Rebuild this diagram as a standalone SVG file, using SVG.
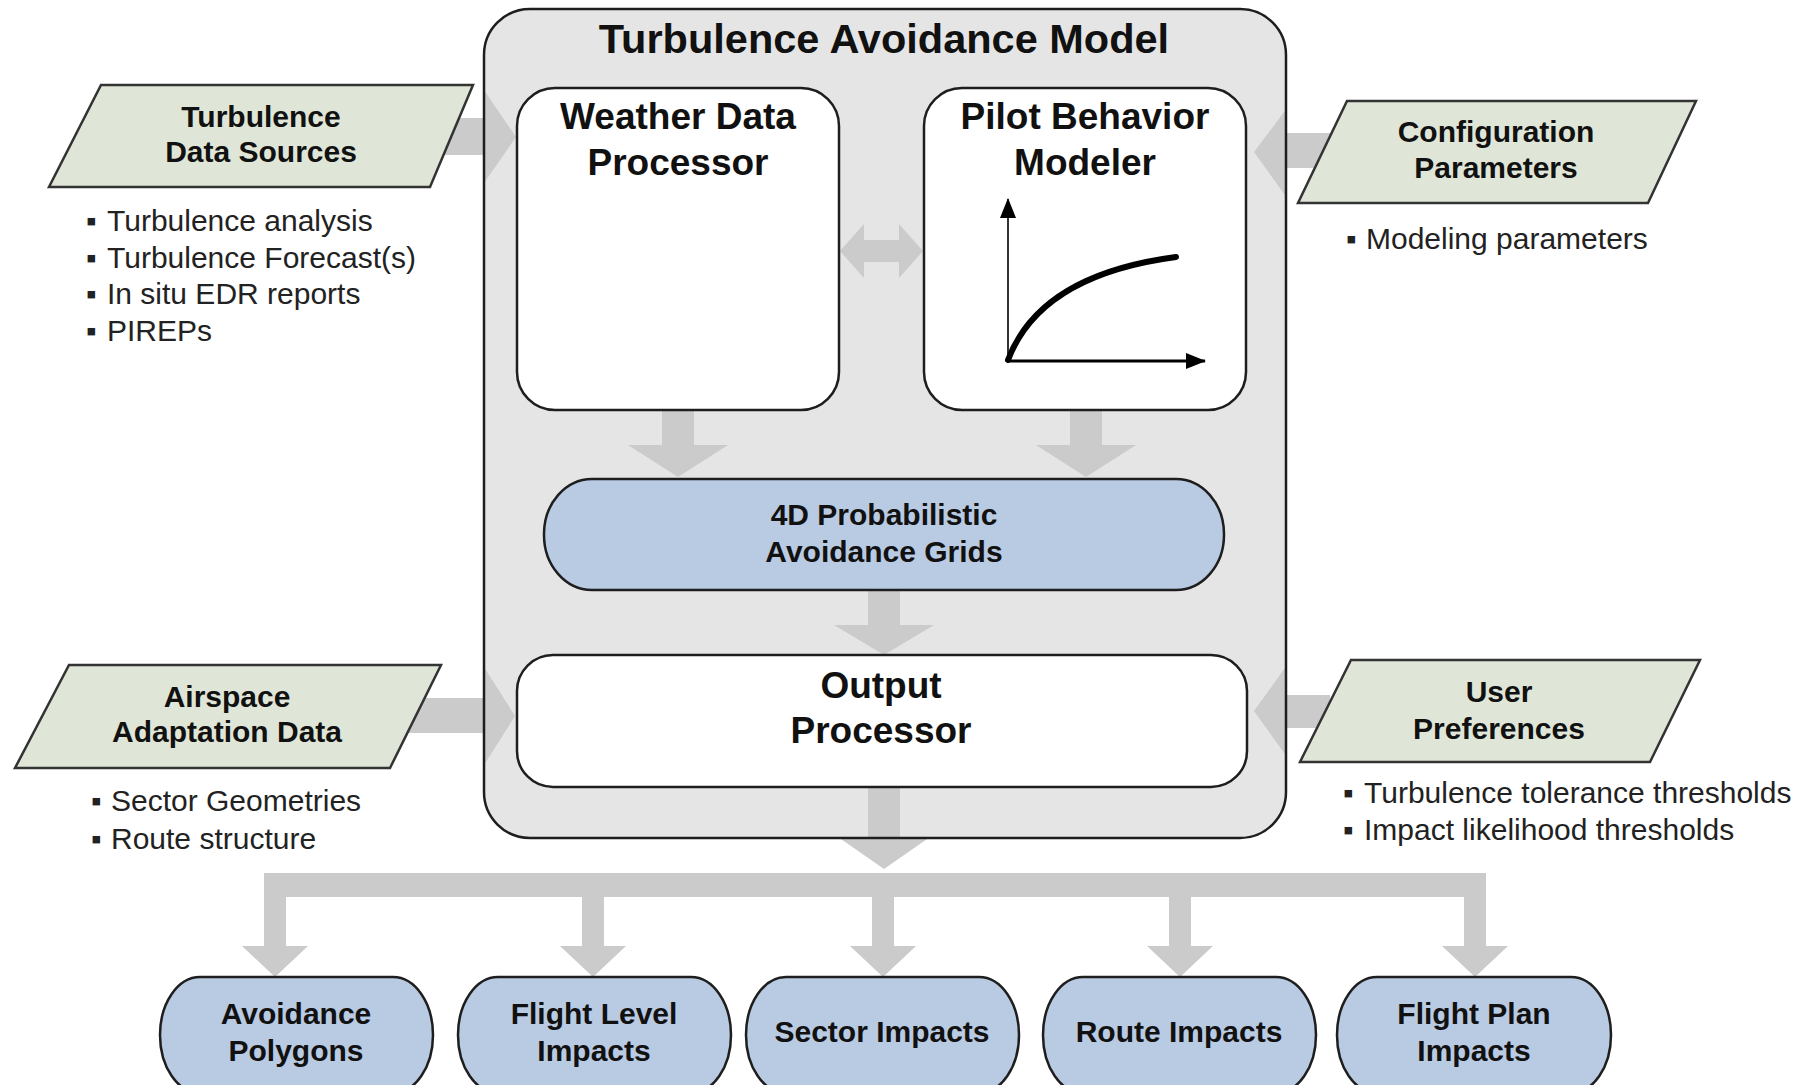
<svg xmlns="http://www.w3.org/2000/svg" width="1797" height="1085" viewBox="0 0 1797 1085">
<style>
  .bg{fill:#ffffff}
  .container{fill:#e5e5e5;stroke:none}
  .outline{fill:none;stroke:#1e1e1e;stroke-width:2.5}
  .box{fill:#ffffff;stroke:#1e1e1e;stroke-width:2.5}
  .pill{fill:#b9cae3;stroke:#1e1e1e;stroke-width:2.5}
  .para{fill:#dfe6d7;stroke:#333333;stroke-width:2.5}
  .arrow{fill:#cbcbcb;stroke:none}
  .t{font-family:"Liberation Sans",Arial,sans-serif;fill:#111111;text-anchor:middle;font-weight:bold}
  .title{font-size:41.5px}
  .big{font-size:37px}
  .lab{font-size:30px}
  .bul{font-family:"Liberation Sans",Arial,sans-serif;font-size:30px;fill:#222222}
  .axis{stroke:#333333;stroke-width:2;fill:none}
  .axis2{stroke:#000000;stroke-width:3;fill:none}
  .curve{stroke:#000000;stroke-width:6;fill:none;stroke-linecap:round}
</style>
<defs>
  <marker id="ah" viewBox="0 0 20 16" refX="19" refY="8" markerWidth="20" markerHeight="16" orient="auto" markerUnits="userSpaceOnUse">
    <path d="M0,0 L20,8 L0,16 z" fill="#000"/>
  </marker>
</defs>
<rect class="bg" x="0" y="0" width="1797" height="1085"/>

<g id="turbulence-avoidance-model">
  <rect class="container" x="484" y="9" width="802" height="829" rx="46" ry="46"/>
  <text class="t title" x="884" y="53">Turbulence Avoidance Model</text>
</g>

<g id="connectors">
  <polygon class="arrow" points="430,118 484,118 484,90 516,137 484,183 484,155 430,155"/>
  <polygon class="arrow" points="1330,133 1287,133 1287,108 1254,152 1287,198 1287,168 1330,168"/>
  <polygon class="arrow" points="380,698 484,698 484,667 515,716 484,765 484,733 380,733"/>
  <polygon class="arrow" points="1330,695 1287,695 1287,665 1254,711 1287,757 1287,728 1330,728"/>
  <polygon class="arrow" points="840,251 864,224 864,240 899,240 899,224 923,251 899,278 899,262 864,262 864,278"/>
  <polygon class="arrow" points="662,410 694,410 694,445 728,445 678,477 628,445 662,445"/>
  <polygon class="arrow" points="1070,410 1102,410 1102,445 1136,445 1086,477 1036,445 1070,445"/>
  <polygon class="arrow" points="868,590 900,590 900,625 934,625 884,655 834,625 868,625"/>
  <polygon class="arrow" points="868,787 900,787 900,837 930,837 884,869 838,837 868,837"/>
  <rect class="arrow" x="264" y="873" width="1222" height="24"/>
  <polygon class="arrow" points="264,897 286,897 286,946 308,946 275,977 242,946 264,946"/>
  <polygon class="arrow" points="582,897 604,897 604,946 626,946 593,977 560,946 582,946"/>
  <polygon class="arrow" points="872,897 894,897 894,946 916,946 883,977 850,946 872,946"/>
  <polygon class="arrow" points="1169,897 1191,897 1191,946 1213,946 1180,977 1147,946 1169,946"/>
  <polygon class="arrow" points="1464,897 1486,897 1486,946 1508,946 1475,977 1442,946 1464,946"/>
</g>

<g id="turbulence-avoidance-model-border">
  <rect class="outline" x="484" y="9" width="802" height="829" rx="46" ry="46"/>
</g>

<g id="weather-data-processor">
  <rect class="box" x="517" y="88" width="322" height="322" rx="38" ry="38"/>
  <text class="t big" x="678" y="129">Weather Data</text>
  <text class="t big" x="678" y="175">Processor</text>
</g>

<g id="pilot-behavior-modeler">
  <rect class="box" x="924" y="88" width="322" height="322" rx="38" ry="38"/>
  <text class="t big" x="1085" y="129">Pilot Behavior</text>
  <text class="t big" x="1085" y="175">Modeler</text>
  <line class="axis" x1="1008" y1="361" x2="1008" y2="199" marker-end="url(#ah)"/>
  <line class="axis2" x1="1007" y1="361" x2="1205" y2="361" marker-end="url(#ah)"/>
  <path class="curve" d="M1008,360 Q1040,275 1176,257"/>
</g>

<g id="avoidance-grids">
  <rect class="pill" x="544" y="479" width="680" height="111" rx="48" ry="55"/>
  <text class="t lab" x="884" y="525">4D Probabilistic</text>
  <text class="t lab" x="884" y="562">Avoidance Grids</text>
</g>

<g id="output-processor">
  <rect class="box" x="517" y="655" width="730" height="132" rx="36" ry="36"/>
  <text class="t big" x="881" y="698">Output</text>
  <text class="t big" x="881" y="743">Processor</text>
</g>

<g id="turbulence-data-sources">
  <polygon class="para" points="101,85 473,85 430,187 49,187"/>
  <text class="t lab" x="261" y="127">Turbulence</text>
  <text class="t lab" x="261" y="162">Data Sources</text>
  <text class="bul" y="231"><tspan x="86">▪</tspan><tspan x="107">Turbulence analysis</tspan></text>
  <text class="bul" y="268"><tspan x="86">▪</tspan><tspan x="107">Turbulence Forecast(s)</tspan></text>
  <text class="bul" y="304"><tspan x="86">▪</tspan><tspan x="107">In situ EDR reports</tspan></text>
  <text class="bul" y="341"><tspan x="86">▪</tspan><tspan x="107">PIREPs</tspan></text>
</g>

<g id="configuration-parameters">
  <polygon class="para" points="1347,101 1696,101 1648,203 1298,203"/>
  <text class="t lab" x="1496" y="142">Configuration</text>
  <text class="t lab" x="1496" y="178">Parameters</text>
  <text class="bul" y="249"><tspan x="1346">▪</tspan><tspan x="1366">Modeling parameters</tspan></text>
</g>

<g id="airspace-adaptation-data">
  <polygon class="para" points="69,665 441,665 390,768 15,768"/>
  <text class="t lab" x="227" y="707">Airspace</text>
  <text class="t lab" x="227" y="742">Adaptation Data</text>
  <text class="bul" y="811"><tspan x="91">▪</tspan><tspan x="111">Sector Geometries</tspan></text>
  <text class="bul" y="849"><tspan x="91">▪</tspan><tspan x="111">Route structure</tspan></text>
</g>

<g id="user-preferences">
  <polygon class="para" points="1351,660 1700,660 1650,762 1300,762"/>
  <text class="t lab" x="1499" y="702">User</text>
  <text class="t lab" x="1499" y="739">Preferences</text>
  <text class="bul" y="803"><tspan x="1343">▪</tspan><tspan x="1364">Turbulence tolerance thresholds</tspan></text>
  <text class="bul" y="840"><tspan x="1343">▪</tspan><tspan x="1364">Impact likelihood thresholds</tspan></text>
</g>

<g id="avoidance-polygons">
  <rect class="pill" x="160" y="977" width="273" height="116" rx="40" ry="58"/>
  <text class="t lab" x="296" y="1024">Avoidance</text>
  <text class="t lab" x="296" y="1061">Polygons</text>
</g>
<g id="flight-level-impacts">
  <rect class="pill" x="458" y="977" width="273" height="116" rx="40" ry="58"/>
  <text class="t lab" x="594" y="1024">Flight Level</text>
  <text class="t lab" x="594" y="1061">Impacts</text>
</g>
<g id="sector-impacts">
  <rect class="pill" x="746" y="977" width="273" height="116" rx="40" ry="58"/>
  <text class="t lab" x="882" y="1042">Sector Impacts</text>
</g>
<g id="route-impacts">
  <rect class="pill" x="1043" y="977" width="273" height="116" rx="40" ry="58"/>
  <text class="t lab" x="1179" y="1042">Route Impacts</text>
</g>
<g id="flight-plan-impacts">
  <rect class="pill" x="1337" y="977" width="274" height="116" rx="40" ry="58"/>
  <text class="t lab" x="1474" y="1024">Flight Plan</text>
  <text class="t lab" x="1474" y="1061">Impacts</text>
</g>
</svg>
